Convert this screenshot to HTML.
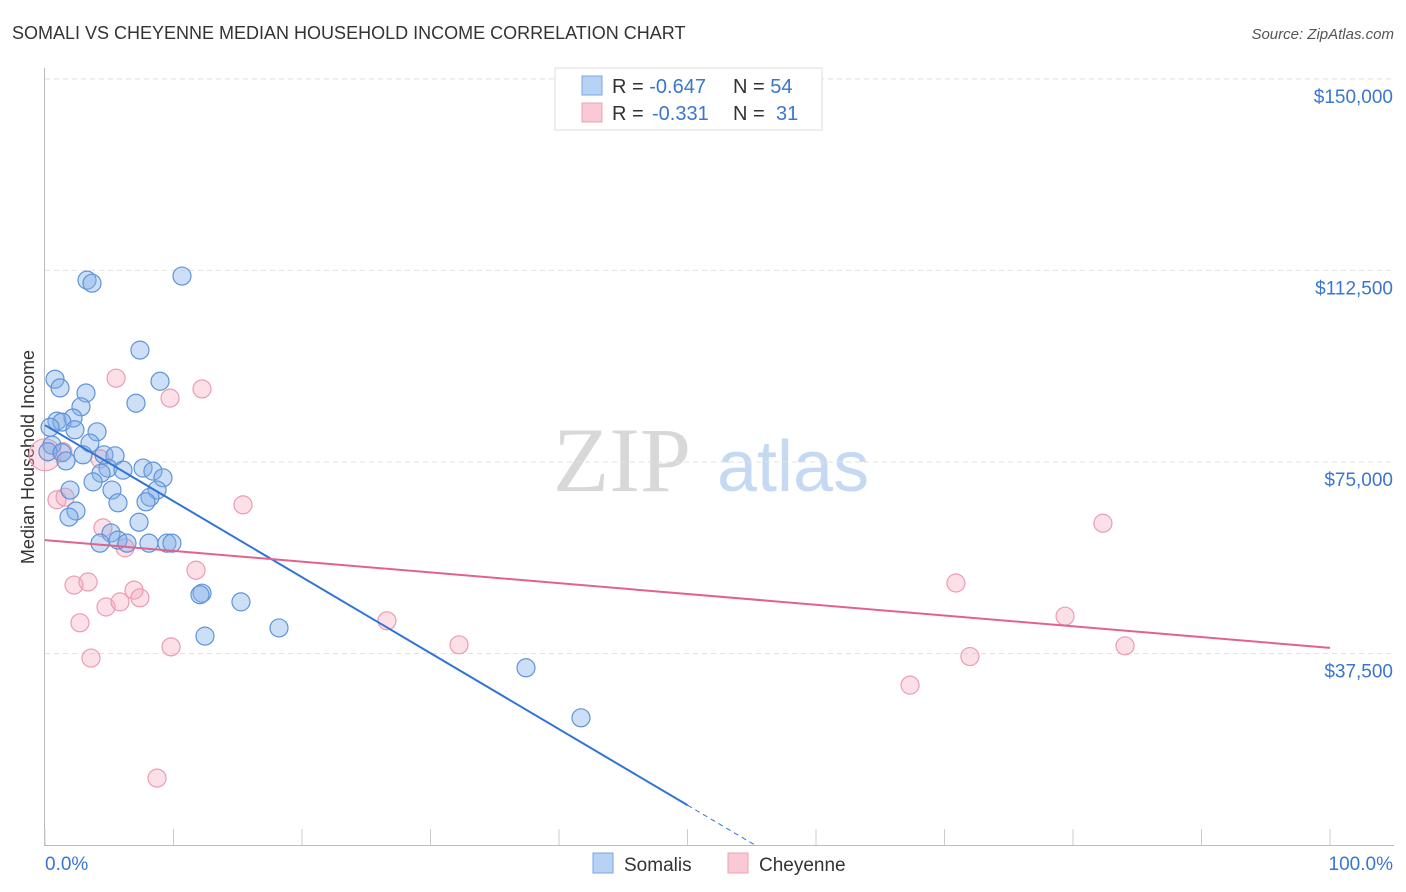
<!DOCTYPE html>
<html><head><meta charset="utf-8"><style>
body{margin:0;background:#fff;font-family:"Liberation Sans",sans-serif;}
svg{display:block}
</style></head><body>
<svg id="chart" width="1406" height="892" viewBox="0 0 1406 892">
<text x="12" y="39" font-size="18" fill="#333">SOMALI VS CHEYENNE MEDIAN HOUSEHOLD INCOME CORRELATION CHART</text>
<text x="1394" y="39" font-size="15" fill="#555" font-style="italic" text-anchor="end">Source: ZipAtlas.com</text>
<g>
<text x="553" y="491" font-size="92" fill="#d8d8d8" font-family="Liberation Serif,serif">ZIP</text>
<text x="717" y="491" font-size="72" fill="#c5daf2">atlas</text>
</g>
<g id="grid"></g>
<g id="axes"></g>
<text transform="translate(34,457) rotate(-90)" font-size="18" fill="#333" text-anchor="middle">Median Household Income</text>
<g id="marks"></g>
<g>
<rect x="555" y="68" width="267" height="62" fill="#fff" stroke="#ddd"/>
<rect x="582" y="76" width="20" height="19" fill="#b7d2f5" stroke="#7aa6e0"/>
<rect x="582" y="103" width="20" height="19" fill="#fbc9d6" stroke="#eda0b6"/>
<text x="612" y="93" font-size="20" fill="#333">R = <tspan fill="#3a76d0">-0.647</tspan><tspan x="733">N = </tspan><tspan fill="#3a76d0">54</tspan></text>
<text x="612" y="120" font-size="20" fill="#333">R = <tspan fill="#3a76d0" x="652">-0.331</tspan><tspan x="733">N = </tspan><tspan fill="#3a76d0" x="776">31</tspan></text>
</g>
<g>
<rect x="593" y="853" width="20" height="20" fill="#b7d2f5" stroke="#7aa6e0"/>
<text x="624" y="871" font-size="19" fill="#333">Somalis</text>
<rect x="728" y="853" width="20" height="20" fill="#fbc9d6" stroke="#eda0b6"/>
<text x="759" y="871" font-size="19" fill="#333">Cheyenne</text>
</g>
</svg>
<script>
const yTicks=[37500,75000,112500,150000];
const yTickLabels=["$37,500","$75,000","$112,500","$150,000"];
const xTickLabels=["0.0%","100.0%"];
const somaliX=[3.27,3.66,10.66,7.39,0.78,1.17,8.95,3.19,7.08,2.80,0.93,2.18,1.32,0.39,2.33,4.05,3.50,0.54,0.23,1.32,2.96,4.59,5.45,1.63,4.90,6.07,4.36,7.63,8.40,9.18,3.74,5.21,8.72,8.17,1.95,5.68,7.86,2.41,1.87,7.32,5.14,4.28,5.68,6.38,8.09,9.49,9.88,12.22,12.06,15.25,12.45,18.21,37.43,41.71];
const somaliY=[110.6,110.0,111.4,96.9,91.2,89.5,90.8,88.5,86.5,85.8,83.0,83.6,82.8,81.8,81.3,80.9,78.7,78.3,77.0,76.8,76.4,76.4,76.2,75.2,73.8,73.4,72.8,73.8,73.2,71.9,71.1,69.5,69.5,68.1,69.5,67.0,67.2,65.4,64.2,63.2,61.1,59.1,59.7,59.1,59.1,59.1,59.1,49.3,49.0,47.6,40.9,42.5,34.7,24.9];
const cheyX=[0,1.40,4.28,5.53,9.73,12.22,0.93,1.56,15.41,4.51,6.23,11.75,2.26,3.35,6.93,7.39,4.75,5.84,2.72,3.58,9.81,26.61,32.22,8.72,70.89,82.33,79.38,71.98,67.32,84.05];
const cheyY=[76.4,77.0,75.6,91.4,87.5,89.3,67.6,68.1,66.6,62.1,58.2,53.8,50.9,51.5,49.9,48.4,46.6,47.6,43.5,36.6,38.8,43.9,39.2,13.1,51.3,63.0,44.8,36.9,31.3,39.0];
const somaliTrend=[82.2,7.8]; // value at 0% and 50%
const cheyTrend=[59.7,38.6]; // value at 0% and 100%
const NS="http://www.w3.org/2000/svg";
const X=p=>45+p*12.85;
const Y=v=>845-v/0.1958; // v in thousands
function mk(t,a,p){const e=document.createElementNS(NS,t);for(const k in a)e.setAttribute(k,a[k]);(p||document.getElementById('marks')).appendChild(e);return e;}
const grid=document.getElementById('grid'),axes=document.getElementById('axes');
yTicks.forEach((t,i)=>{const y=Y(t/1000);
 const l=mk('line',{x1:45,x2:1394,y1:y,y2:y,stroke:'#e2e2e2','stroke-dasharray':'5,4'},grid);
 
 
 const tx=mk('text',{x:1393,y:y+24,'font-size':19,fill:'#3a76d0','text-anchor':'end'},axes);
 tx.textContent=yTickLabels[i];
 
 
});
mk('line',{x1:45,x2:1394,y1:79,y2:79,stroke:'#e2e2e2','stroke-dasharray':'5,4'},grid);
mk('line',{x1:44.5,x2:44.5,y1:68,y2:845,stroke:'#bbb'},axes);
mk('line',{x1:44,x2:1394,y1:845.5,y2:845.5,stroke:'#bbb'},axes);
for(let i=0;i<=10;i++){const x=X(i*10);mk('line',{x1:x,x2:x,y1:829,y2:845,stroke:'#ccc'},axes);}
const xl0=mk('text',{x:45,y:870,'font-size':19,fill:'#3a76d0'},axes);xl0.textContent=xTickLabels[0];


const xl1=mk('text',{x:1393,y:870,'font-size':19,fill:'#3a76d0','text-anchor':'end'},axes);xl1.textContent=xTickLabels[1];


cheyX.forEach((x,i)=>{const c=mk('circle',{cx:X(x),cy:Y(cheyY[i]),r:i===0?16:9,fill:'rgba(245,165,188,0.35)',stroke:'#ec9bb3','stroke-width':1.2});
 
 });
somaliX.forEach((x,i)=>{const c=mk('circle',{cx:X(x),cy:Y(somaliY[i]),r:9,fill:'rgba(130,175,232,0.4)',stroke:'#5f93d8','stroke-width':1.2});
 
 });
const sl=(somaliTrend[1]-somaliTrend[0])/50;
const s1=mk('line',{x1:X(0),y1:Y(somaliTrend[0]),x2:X(50),y2:Y(somaliTrend[1]),stroke:'#2f74d6','stroke-width':2});


const xe=-somaliTrend[0]/sl;
const s2=mk('line',{x1:X(50),y1:Y(somaliTrend[1]),x2:X(xe),y2:Y(0),stroke:'#2f74d6','stroke-width':1,'stroke-dasharray':'5,4'});


const c1=mk('line',{x1:X(0),y1:Y(cheyTrend[0]),x2:X(100),y2:Y(cheyTrend[1]),stroke:'#e2628e','stroke-width':2});


</script>
</body></html>
